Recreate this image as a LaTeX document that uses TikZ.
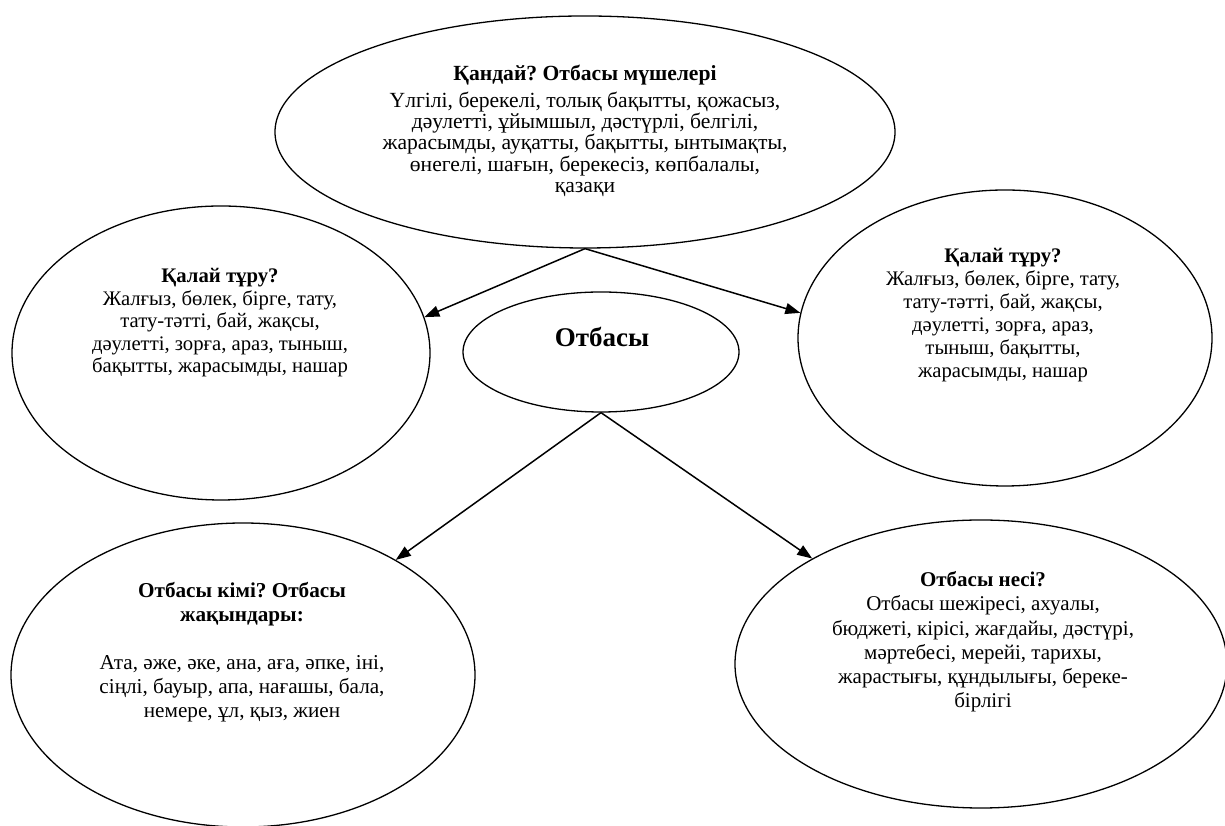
\documentclass[tikz,border=0pt]{standalone}
\usepackage{fontspec}
\setmainfont{Liberation Serif}
\usetikzlibrary{shapes.geometric,arrows.meta}
\frenchspacing
\begin{document}
\begin{tikzpicture}[x=1pt,y=1pt,
  bubble/.style={draw=black,line width=1.3pt,ellipse,inner sep=0pt},
  txt/.style={align=center,inner sep=0pt},
  arr/.style={draw=black,line width=1.5pt,-{Triangle[length=15pt,width=11pt]}}]
\fill[white] (0,0) rectangle (1225,826);
\clip (0,0) rectangle (1225,826);
% ellipses
\node[bubble,minimum width=620pt,minimum height=232pt] (top) at (585,694) {};
\node[bubble,minimum width=418pt,minimum height=294pt] (lm) at (221,473) {};
\node[bubble,minimum width=414pt,minimum height=296pt] (rm) at (1005,488) {};
\node[bubble,minimum width=276pt,minimum height=120pt] (ctr) at (601,474) {};
\node[bubble,minimum width=464pt,minimum height=304pt] (bl) at (243,151) {};
\node[bubble,minimum width=492pt,minimum height=288pt] (br) at (981,162) {};
% texts
\node[txt,font=\fontsize{21.6}{21.3}\selectfont] (toptxt) at (585,695)
 {\textbf{Қандай? Отбасы мүшелері}\\[5pt]
  Үлгілі, берекелі, толық бақытты, қожасыз,\\
  дәулетті, ұйымшыл, дәстүрлі, белгілі,\\
  жарасымды, ауқатты, бақытты, ынтымақты,\\
  өнегелі, шағын, берекесіз, көпбалалы,\\
  қазақи};
\node[txt,font=\fontsize{20.7}{22.5}\selectfont] (lmtxt) at (220,503)
 {\textbf{Қалай тұру?}\\
  Жалғыз, бөлек, бірге, тату,\\
  тату-тәтті, бай, жақсы,\\
  дәулетті, зорға, араз, тыныш,\\
  бақытты, жарасымды, нашар};
\node[txt,font=\fontsize{20.7}{23}\selectfont] (rmtxt) at (1003,511)
 {\textbf{Қалай тұру?}\\
  Жалғыз, бөлек, бірге, тату,\\
  тату-тәтті, бай, жақсы,\\
  дәулетті, зорға, араз,\\
  тыныш, бақытты,\\
  жарасымды, нашар};
\node[txt,font=\bfseries\fontsize{27}{30}\selectfont] (ctrtxt) at (602,489) {Отбасы};
\node[txt,font=\fontsize{21.2}{24}\selectfont] (bltxt) at (242,174)
 {\textbf{Отбасы кімі? Отбасы}\\
  \textbf{жақындары:}\\[24pt]
  Ата, әже, әке, ана, аға, әпке, іні,\\
  сіңлі, бауыр, апа, нағашы, бала,\\
  немере, ұл, қыз, жиен};
\node[txt,font=\fontsize{21}{24.2}\selectfont] (brtxt) at (983,184)
 {\textbf{Отбасы несі?}\\
  Отбасы шежіресі, ахуалы,\\
  бюджеті, кірісі, жағдайы, дәстүрі,\\
  мәртебесі, мерейі, тарихы,\\
  жарастығы, құндылығы, береке-\\
  бірлігі};
% connectors
\draw[arr] (top.south) -- (lm.10);
\draw[arr] (top.south) -- (rm.173);
\draw[arr] (ctr.south) -- (bl.37);
\draw[arr] (ctr.south) -- (br.148);
\end{tikzpicture}
\end{document}
